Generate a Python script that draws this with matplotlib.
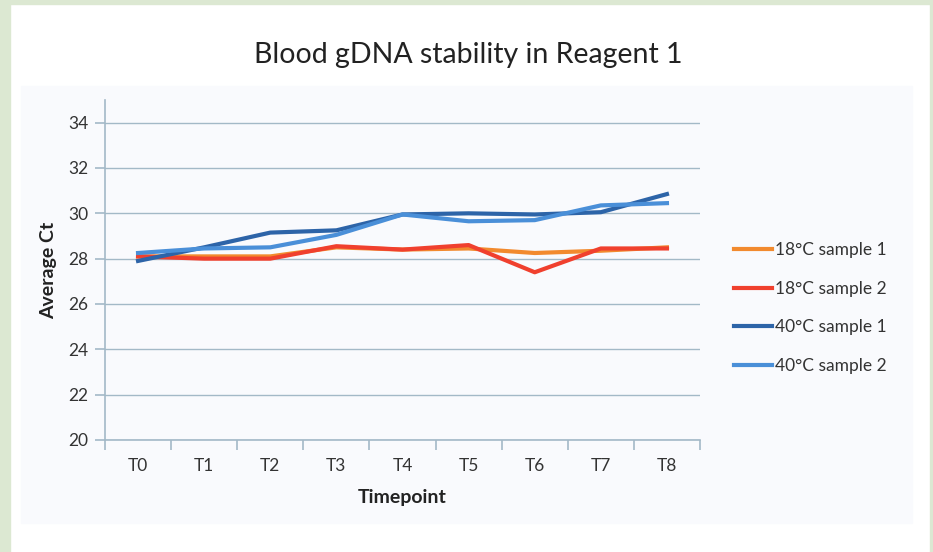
import matplotlib.pyplot as plt
import matplotlib.patches as mpatches

# data
timepoints = ["T0", "T1", "T2", "T3", "T4", "T5", "T6", "T7", "T8"]
s18_1 = [28.1, 28.1, 28.1, 28.5, 28.4, 28.45, 28.25, 28.35, 28.5]
s18_2 = [28.1, 28.0, 28.0, 28.55, 28.4, 28.6, 27.4, 28.45, 28.45]
s40_1 = [27.9, 28.5, 29.15, 29.25, 29.95, 30.0, 29.95, 30.05, 30.85]
s40_2 = [28.25, 28.45, 28.5, 29.05, 29.95, 29.65, 29.7, 30.35, 30.45]
labels = ["18°C sample 1", "18°C sample 2", "40°C sample 1", "40°C sample 2"]
colors = ["#f28a2e", "#f0402e", "#2d64a8", "#4a8fd8"]

plt.rcParams['font.family'] = ['Lato', 'DejaVu Sans']

fig = plt.figure(figsize=(9.33, 5.52), dpi=100)
fig.patch.set_facecolor("white")

# green frame and chart area background
W, H = 933.0, 552.0
green = "#dce8d2"
for r in [(0, 0, 10 / W, 1), (0, 1 - 4 / H, 1, 4 / H), (1 - 3 / W, 0, 3 / W, 1),
          (21 / W, 1 - 523 / H, (912 - 21) / W, (523 - 86) / H)]:
    c = green if r[3] != (523 - 86) / H else "#f9fafd"
    fig.patches.append(mpatches.Rectangle(r[:2], r[2], r[3], transform=fig.transFigure,
                                          color=c, zorder=-5))

ax = fig.add_axes([105 / W, 1 - 440 / H, (700 - 105) / W, (440 - 100) / H])
ax.set_zorder(2)
ax.set_facecolor("none")

x = list(range(len(timepoints)))
for ys, lab, c in zip([s18_1, s18_2, s40_1, s40_2], labels, colors):
    ax.plot(x, ys, color=c, lw=3, label=lab, solid_joinstyle="round")

gc = "#a3b9c7"
ax.set_ylim(20, 35)
ax.set_yticks(range(20, 35, 2))
ax.set_xlim(-0.5, 8.5)
ax.set_xticks(x)
ax.set_xticklabels(timepoints)
ax.set_xticks([i - 0.5 for i in range(10)], minor=True)
ax.grid(axis="y", color=gc, lw=1)
ax.set_axisbelow(True)
for s in ["top", "right"]:
    ax.spines[s].set_visible(False)
for s in ["left", "bottom"]:
    ax.spines[s].set_color(gc)
    ax.spines[s].set_linewidth(1.2)
ax.tick_params(axis="y", colors=gc, length=7, width=1.2, labelcolor="#333333",
               labelsize=12.5, pad=5)
ax.tick_params(axis="x", which="major", length=0, labelcolor="#333333",
               labelsize=12.5, pad=13)
ax.tick_params(axis="x", which="minor", colors=gc, length=7, width=1.2)

ax.set_xlabel("Timepoint", fontsize=14, fontweight="bold", color="#222222", labelpad=11)
ax.set_ylabel("Average Ct", fontsize=14, fontweight="bold", color="#222222", labelpad=8)

fig.text(468 / W, 1 - 55 / H, "Blood gDNA stability in Reagent 1", fontsize=20.5,
         ha="center", va="center", color="#222222")

leg = ax.legend(loc="center left", bbox_to_anchor=(734 / W, 1 - 308 / H),
                bbox_transform=fig.transFigure, frameon=False, fontsize=12.5,
                handlelength=2.2, handletextpad=0.15, labelspacing=1.3,
                borderaxespad=0, borderpad=0)
for t in leg.get_texts():
    t.set_color("#333333")

fig.savefig("out.png", dpi=100)
